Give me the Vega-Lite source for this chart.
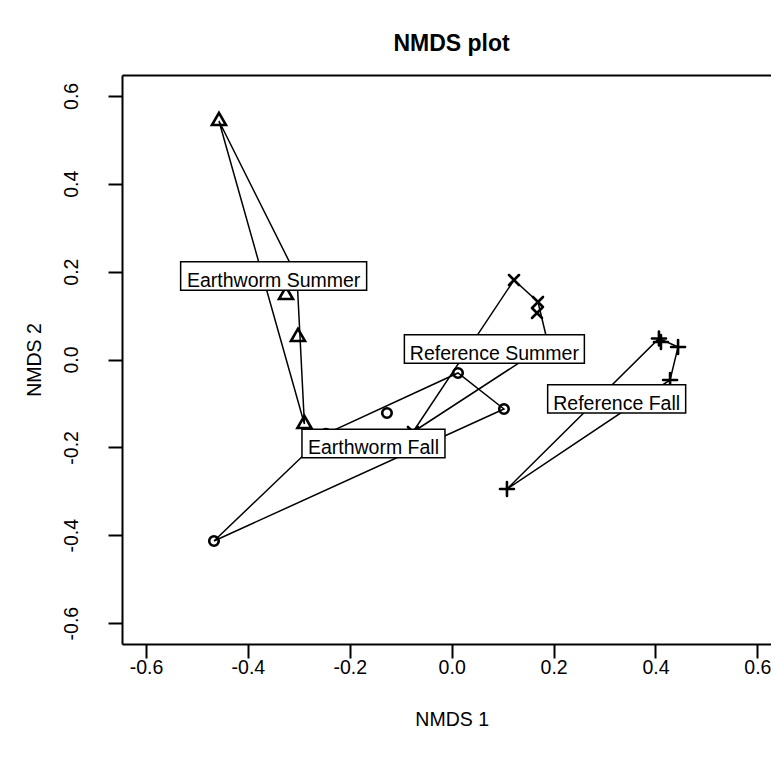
{
  "$schema": "https://vega.github.io/schema/vega-lite/v6.json",
  "autosize": {"type": "none"},
  "width": 649,
  "height": 569,
  "padding": {"left": 122, "top": 75, "right": 0, "bottom": 117},
  "background": "white",
  "title": {"text": "NMDS plot", "fontSize": 23, "fontWeight": "bold", "font": "Liberation Sans", "color": "black", "anchor": "middle", "dx": 5, "baseline": "alphabetic", "offset": 1},
  "datasets": {
    "points": [
      {"group": "Earthworm Summer", "x": -0.4567, "y": 0.5428},
      {"group": "Earthworm Summer", "x": -0.3036, "y": 0.1878},
      {"group": "Earthworm Summer", "x": -0.3252, "y": 0.1468},
      {"group": "Earthworm Summer", "x": -0.3017, "y": 0.0512},
      {"group": "Earthworm Summer", "x": -0.289, "y": -0.1468},
      {"group": "Earthworm Fall", "x": -0.4665, "y": -0.4131},
      {"group": "Earthworm Fall", "x": -0.2467, "y": -0.169},
      {"group": "Earthworm Fall", "x": 0.0124, "y": -0.0307},
      {"group": "Earthworm Fall", "x": 0.1026, "y": -0.1126},
      {"group": "Earthworm Fall", "x": -0.127, "y": -0.1217},
      {"group": "Reference Summer", "x": 0.1223, "y": 0.1809},
      {"group": "Reference Summer", "x": 0.1694, "y": 0.1309},
      {"group": "Reference Summer", "x": 0.1674, "y": 0.1059},
      {"group": "Reference Summer", "x": 0.1891, "y": 0.0353},
      {"group": "Reference Summer", "x": -0.076, "y": -0.165},
      {"group": "Reference Fall", "x": 0.1085, "y": -0.2947},
      {"group": "Reference Fall", "x": 0.4068, "y": 0.0478},
      {"group": "Reference Fall", "x": 0.4107, "y": 0.0398},
      {"group": "Reference Fall", "x": 0.4443, "y": 0.0284},
      {"group": "Reference Fall", "x": 0.4286, "y": -0.0466}
    ],
    "hulls": [
      {"group": "Earthworm Summer", "ord": 1, "x": -0.4567, "y": 0.5428},
      {"group": "Earthworm Summer", "ord": 2, "x": -0.3036, "y": 0.1878},
      {"group": "Earthworm Summer", "ord": 3, "x": -0.289, "y": -0.1468},
      {"group": "Earthworm Summer", "ord": 4, "x": -0.4567, "y": 0.5428},
      {"group": "Earthworm Fall", "ord": 1, "x": -0.4665, "y": -0.4131},
      {"group": "Earthworm Fall", "ord": 2, "x": -0.2467, "y": -0.169},
      {"group": "Earthworm Fall", "ord": 3, "x": 0.0124, "y": -0.0307},
      {"group": "Earthworm Fall", "ord": 4, "x": 0.1026, "y": -0.1126},
      {"group": "Earthworm Fall", "ord": 5, "x": -0.4665, "y": -0.4131},
      {"group": "Reference Summer", "ord": 1, "x": 0.1223, "y": 0.1809},
      {"group": "Reference Summer", "ord": 2, "x": 0.1694, "y": 0.1309},
      {"group": "Reference Summer", "ord": 3, "x": 0.1891, "y": 0.0353},
      {"group": "Reference Summer", "ord": 4, "x": -0.076, "y": -0.165},
      {"group": "Reference Summer", "ord": 5, "x": 0.1223, "y": 0.1809},
      {"group": "Reference Fall", "ord": 1, "x": 0.1085, "y": -0.2947},
      {"group": "Reference Fall", "ord": 2, "x": 0.4286, "y": -0.0466},
      {"group": "Reference Fall", "ord": 3, "x": 0.4443, "y": 0.0284},
      {"group": "Reference Fall", "ord": 4, "x": 0.4068, "y": 0.0478},
      {"group": "Reference Fall", "ord": 5, "x": 0.1085, "y": -0.2947}
    ],
    "labels": [
      {"label": "Earthworm Summer", "x": -0.3494, "y": 0.19},
      {"label": "Earthworm Fall", "x": -0.1535, "y": -0.1912},
      {"label": "Reference Summer", "x": 0.0838, "y": 0.0239},
      {"label": "Reference Fall", "x": 0.3238, "y": -0.0894}
    ]
  },
  "resolve": {"scale": {"shape": "independent"}, "axis": {"x": "independent"}},
  "layer": [
    {
      "mark": {"type": "rule", "color": "black", "strokeWidth": 1.6},
      "encoding": {
        "y": {"datum": 0, "type": "quantitative", "scale": {"domain": [-0.6475, 0.6475], "nice": false, "zero": false}, "title": "NMDS 2", "axis": {"values": [-0.6, -0.4, -0.2, 0, 0.2, 0.4, 0.6], "format": ".1f", "labelExpr": "replace(datum.label, '\u2212', '-')"}}
      }
    },
    {
      "mark": {"type": "rule", "color": "black", "strokeWidth": 1.6},
      "encoding": {
        "x": {"datum": 0, "type": "quantitative", "scale": {"domain": [-0.647, 0.6267], "nice": false, "zero": false}, "axis": null}
      }
    },
    {
      "data": {"name": "hulls"},
      "mark": {"type": "line", "color": "black", "strokeWidth": 1.5},
      "encoding": {
        "x": {"field": "x", "type": "quantitative", "scale": {"domain": [-0.647, 0.6267], "nice": false, "zero": false}, "axis": {"orient": "top", "ticks": false, "labels": false, "title": null, "domain": true}},
        "y": {"field": "y", "type": "quantitative", "scale": {"domain": [-0.6475, 0.6475], "nice": false, "zero": false}, "title": "NMDS 2", "axis": {"values": [-0.6, -0.4, -0.2, 0, 0.2, 0.4, 0.6], "format": ".1f", "labelExpr": "replace(datum.label, '\u2212', '-')"}},
        "detail": {"field": "group"},
        "order": {"field": "ord"}
      }
    },
    {
      "data": {"name": "points"},
      "mark": {"type": "point", "filled": false, "stroke": "black", "strokeWidth": 2.6, "opacity": 1, "size": 100, "strokeCap": "round"},
      "encoding": {
        "x": {"field": "x", "type": "quantitative", "scale": {"domain": [-0.647, 0.6267], "nice": false, "zero": false}, "axis": {"orient": "bottom", "title": "NMDS 1", "values": [-0.6, -0.4, -0.2, 0, 0.2, 0.4, 0.6], "format": ".1f", "labelExpr": "replace(datum.label, '\u2212', '-')"}},
        "y": {"field": "y", "type": "quantitative", "scale": {"domain": [-0.6475, 0.6475], "nice": false, "zero": false}, "title": "NMDS 2", "axis": {"values": [-0.6, -0.4, -0.2, 0, 0.2, 0.4, 0.6], "format": ".1f", "labelExpr": "replace(datum.label, '\u2212', '-')"}},
        "shape": {"field": "group", "type": "nominal", "legend": null,
          "scale": {"domain": ["Earthworm Summer", "Earthworm Fall", "Reference Summer", "Reference Fall"],
            "range": ["M0,-1.62L1.4,0.81L-1.4,0.81Z", "M0.95,0A0.95,0.95 0 1,1 -0.95,0A0.95,0.95 0 1,1 0.95,0Z", "M-1,-1L1,1M-1,1L1,-1", "M-1.4,0L1.4,0M0,-1.4L0,1.4"]}}
      }
    },
    {
      "data": {"name": "labels"},
      "mark": {"type": "point", "filled": true, "fill": "white", "stroke": "black", "strokeWidth": 1.5, "opacity": 1, "fillOpacity": 1, "size": 100},
      "encoding": {
        "x": {"field": "x", "type": "quantitative", "scale": {"domain": [-0.647, 0.6267], "nice": false, "zero": false}, "axis": null},
        "y": {"field": "y", "type": "quantitative", "scale": {"domain": [-0.6475, 0.6475], "nice": false, "zero": false}, "title": "NMDS 2", "axis": {"values": [-0.6, -0.4, -0.2, 0, 0.2, 0.4, 0.6], "format": ".1f", "labelExpr": "replace(datum.label, '\u2212', '-')"}},
        "shape": {"field": "label", "type": "nominal", "legend": null,
          "scale": {"domain": ["Earthworm Summer", "Earthworm Fall", "Reference Summer", "Reference Fall"],
            "range": ["M-18.6,-2.83L18.6,-2.83L18.6,2.83L-18.6,2.83Z", "M-14.3,-2.83L14.3,-2.83L14.3,2.83L-14.3,2.83Z", "M-18,-2.83L18,-2.83L18,2.83L-18,2.83Z", "M-13.8,-2.83L13.8,-2.83L13.8,2.83L-13.8,2.83Z"]}}
      }
    },
    {
      "data": {"name": "labels"},
      "mark": {"type": "text", "font": "Liberation Sans", "fontSize": 19.5, "color": "black", "align": "center", "baseline": "alphabetic", "dy": 10.8},
      "encoding": {
        "x": {"field": "x", "type": "quantitative", "scale": {"domain": [-0.647, 0.6267], "nice": false, "zero": false}, "axis": null},
        "y": {"field": "y", "type": "quantitative", "scale": {"domain": [-0.6475, 0.6475], "nice": false, "zero": false}, "title": "NMDS 2", "axis": {"values": [-0.6, -0.4, -0.2, 0, 0.2, 0.4, 0.6], "format": ".1f", "labelExpr": "replace(datum.label, '\u2212', '-')"}},
        "text": {"field": "label"}
      }
    }
  ],
  "config": {
    "font": "Liberation Sans",
    "view": {"stroke": null},
    "axis": {"grid": false, "domainColor": "black", "domainWidth": 2, "tickColor": "black", "tickWidth": 2, "tickSize": 14, "labelColor": "black", "labelFont": "Liberation Sans", "labelFontSize": 19.5, "titleColor": "black", "titleFont": "Liberation Sans", "titleFontSize": 19.5, "titleFontWeight": "normal", "labelFlush": false, "labelOverlap": false},
    "axisBottom": {"labelBaseline": "alphabetic", "labelPadding": 15, "titleBaseline": "alphabetic", "titleAlign": "center", "titleX": 329.7, "titleY": 81},
    "axisLeft": {"labelAngle": 270, "labelAlign": "center", "labelBaseline": "alphabetic", "labelPadding": 31, "titleAngle": 270, "titleBaseline": "alphabetic", "titleAlign": "center", "titleX": -82, "titleY": 284.5}
  }
}
